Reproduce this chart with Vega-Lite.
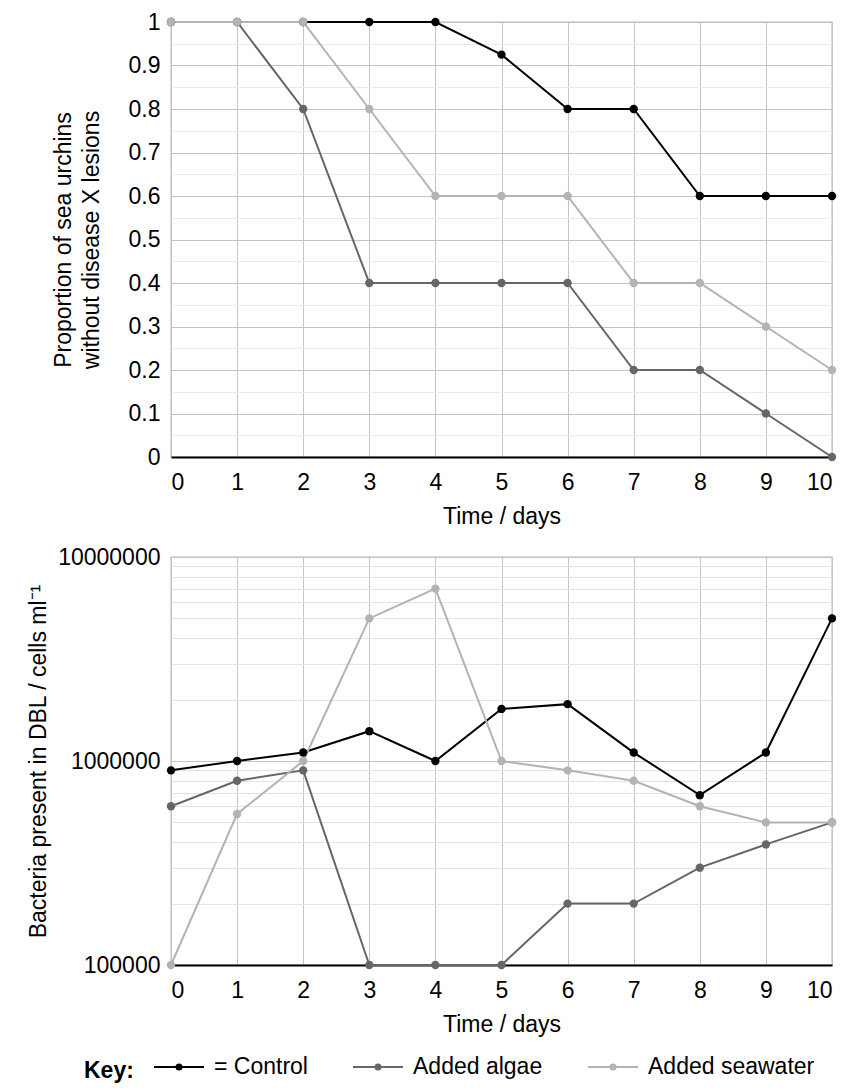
{
  "$schema": "https://vega.github.io/schema/vega-lite/v6.json",
  "padding": {"left": 26, "top": 10, "right": 20, "bottom": 5},
  "config": {
    "font": "Liberation Sans",
    "view": {"stroke": "#d0d0d0", "strokeWidth": 1.5},
    "axis": {
      "labelFontSize": 23,
      "titleFontSize": 23,
      "titleFontWeight": "normal",
      "labelColor": "#000",
      "titleColor": "#000",
      "ticks": false
    }
  },
  "datasets": {
    "lesions": [
      {"day": 0, "group": "Control", "p": 1},
      {"day": 1, "group": "Control", "p": 1},
      {"day": 2, "group": "Control", "p": 1},
      {"day": 3, "group": "Control", "p": 1},
      {"day": 4, "group": "Control", "p": 1},
      {"day": 5, "group": "Control", "p": 0.925},
      {"day": 6, "group": "Control", "p": 0.8},
      {"day": 7, "group": "Control", "p": 0.8},
      {"day": 8, "group": "Control", "p": 0.6},
      {"day": 9, "group": "Control", "p": 0.6},
      {"day": 10, "group": "Control", "p": 0.6},
      {"day": 0, "group": "Added algae", "p": 1},
      {"day": 1, "group": "Added algae", "p": 1},
      {"day": 2, "group": "Added algae", "p": 0.8},
      {"day": 3, "group": "Added algae", "p": 0.4},
      {"day": 4, "group": "Added algae", "p": 0.4},
      {"day": 5, "group": "Added algae", "p": 0.4},
      {"day": 6, "group": "Added algae", "p": 0.4},
      {"day": 7, "group": "Added algae", "p": 0.2},
      {"day": 8, "group": "Added algae", "p": 0.2},
      {"day": 9, "group": "Added algae", "p": 0.1},
      {"day": 10, "group": "Added algae", "p": 0},
      {"day": 0, "group": "Added seawater", "p": 1},
      {"day": 1, "group": "Added seawater", "p": 1},
      {"day": 2, "group": "Added seawater", "p": 1},
      {"day": 3, "group": "Added seawater", "p": 0.8},
      {"day": 4, "group": "Added seawater", "p": 0.6},
      {"day": 5, "group": "Added seawater", "p": 0.6},
      {"day": 6, "group": "Added seawater", "p": 0.6},
      {"day": 7, "group": "Added seawater", "p": 0.4},
      {"day": 8, "group": "Added seawater", "p": 0.4},
      {"day": 9, "group": "Added seawater", "p": 0.3},
      {"day": 10, "group": "Added seawater", "p": 0.2}
    ],
    "bacteria": [
      {"day": 0, "group": "Control", "cells": 900000},
      {"day": 1, "group": "Control", "cells": 1000000},
      {"day": 2, "group": "Control", "cells": 1100000},
      {"day": 3, "group": "Control", "cells": 1400000},
      {"day": 4, "group": "Control", "cells": 1000000},
      {"day": 5, "group": "Control", "cells": 1800000},
      {"day": 6, "group": "Control", "cells": 1900000},
      {"day": 7, "group": "Control", "cells": 1100000},
      {"day": 8, "group": "Control", "cells": 680000},
      {"day": 9, "group": "Control", "cells": 1100000},
      {"day": 10, "group": "Control", "cells": 5000000},
      {"day": 0, "group": "Added algae", "cells": 600000},
      {"day": 1, "group": "Added algae", "cells": 800000},
      {"day": 2, "group": "Added algae", "cells": 900000},
      {"day": 3, "group": "Added algae", "cells": 100000},
      {"day": 4, "group": "Added algae", "cells": 100000},
      {"day": 5, "group": "Added algae", "cells": 100000},
      {"day": 6, "group": "Added algae", "cells": 200000},
      {"day": 7, "group": "Added algae", "cells": 200000},
      {"day": 8, "group": "Added algae", "cells": 300000},
      {"day": 9, "group": "Added algae", "cells": 390000},
      {"day": 10, "group": "Added algae", "cells": 500000},
      {"day": 0, "group": "Added seawater", "cells": 100000},
      {"day": 1, "group": "Added seawater", "cells": 550000},
      {"day": 2, "group": "Added seawater", "cells": 1000000},
      {"day": 3, "group": "Added seawater", "cells": 5000000},
      {"day": 4, "group": "Added seawater", "cells": 7000000},
      {"day": 5, "group": "Added seawater", "cells": 1000000},
      {"day": 6, "group": "Added seawater", "cells": 900000},
      {"day": 7, "group": "Added seawater", "cells": 800000},
      {"day": 8, "group": "Added seawater", "cells": 600000},
      {"day": 9, "group": "Added seawater", "cells": 500000},
      {"day": 10, "group": "Added seawater", "cells": 500000}
    ]
  },
  "spacing": 16,
  "vconcat": [
    {
      "width": 661,
      "height": 435,
      "data": {"name": "lesions"},
      "mark": {"type": "line", "strokeWidth": 2, "point": {"filled": true, "size": 70}},
      "encoding": {
        "x": {
          "field": "day",
          "type": "quantitative",
          "scale": {"domain": [0, 10], "nice": false},
          "axis": {
            "values": [0, 1, 2, 3, 4, 5, 6, 7, 8, 9, 10],
            "title": "Time / days",
            "gridColor": "#c4c4c4",
            "domainColor": "#000",
            "domainWidth": 2,
            "labelPadding": 14,
            "titlePadding": 11
          }
        },
        "y": {
          "field": "p",
          "type": "quantitative",
          "scale": {"domain": [0, 1], "nice": false},
          "axis": {
            "values": [0, 0.05, 0.1, 0.15, 0.2, 0.25, 0.3, 0.35, 0.4, 0.45, 0.5, 0.55, 0.6, 0.65, 0.7, 0.75, 0.8, 0.85, 0.9, 0.95, 1],
            "format": "~g",
            "labelExpr": "round(datum.value * 20) % 2 == 0 ? datum.label : ''",
            "gridColor": {"condition": {"test": "round(datum.value * 20) % 2 == 1", "value": "#ebebeb"}, "value": "#c4c4c4"},
            "domain": false,
            "labelPadding": 11,
            "title": ["Proportion of sea urchins", "without disease X lesions"],
            "titleLineHeight": 28,
            "titlePadding": 25
          }
        },
        "color": {
          "field": "group",
          "type": "nominal",
          "scale": {"domain": ["Control", "Added algae", "Added seawater"], "range": ["#000000", "#666666", "#b3b3b3"]},
          "legend": {
            "orient": "none",
            "legendX": -87,
            "legendY": 1019,
            "direction": "horizontal",
            "title": "Key:",
            "titleOrient": "left",
            "titleAnchor": "middle",
            "titleBaseline": "top",
            "titleFontSize": 23,
            "titleFontWeight": "bold",
            "titleColor": "#000",
            "titlePadding": 19,
            "labelFontSize": 23,
            "labelColor": "#000",
            "labelLimit": 300,
            "labelExpr": "datum.label == 'Control' ? '= Control' : datum.label",
            "symbolType": "M-1,0H1M0.1,0A0.1,0.1,0,1,1,-0.1,0A0.1,0.1,0,1,1,0.1,0",
            "symbolSize": 2500,
            "symbolStrokeWidth": 2,
            "columnPadding": 41,
            "labelOffset": 9
          }
        },
        "order": {"field": "day"}
      }
    },
    {
      "width": 661,
      "height": 408,
      "data": {"name": "bacteria"},
      "mark": {"type": "line", "strokeWidth": 2, "point": {"filled": true, "size": 70}},
      "encoding": {
        "x": {
          "field": "day",
          "type": "quantitative",
          "scale": {"domain": [0, 10], "nice": false},
          "axis": {
            "values": [0, 1, 2, 3, 4, 5, 6, 7, 8, 9, 10],
            "title": "Time / days",
            "gridColor": "#c4c4c4",
            "domainColor": "#000",
            "domainWidth": 2,
            "labelPadding": 14,
            "titlePadding": 11
          }
        },
        "y": {
          "field": "cells",
          "type": "quantitative",
          "scale": {"type": "log", "domain": [100000, 10000000], "nice": false},
          "axis": {
            "values": [100000, 200000, 300000, 400000, 500000, 600000, 700000, 800000, 900000, 1000000, 2000000, 3000000, 4000000, 5000000, 6000000, 7000000, 8000000, 9000000, 10000000],
            "format": "d",
            "labelExpr": "datum.value == 100000 || datum.value == 1000000 || datum.value == 10000000 ? datum.label : ''",
            "gridColor": {"condition": {"test": "datum.value == 100000 || datum.value == 1000000 || datum.value == 10000000", "value": "#c4c4c4"}, "value": "#e3e3e3"},
            "domain": false,
            "labelPadding": 11,
            "title": "Bacteria present in DBL / cells ml⁻¹",
            "titlePadding": 7
          }
        },
        "color": {
          "field": "group",
          "type": "nominal",
          "scale": {"domain": ["Control", "Added algae", "Added seawater"], "range": ["#000000", "#666666", "#b3b3b3"]}
        },
        "order": {"field": "day"}
      }
    }
  ]
}
